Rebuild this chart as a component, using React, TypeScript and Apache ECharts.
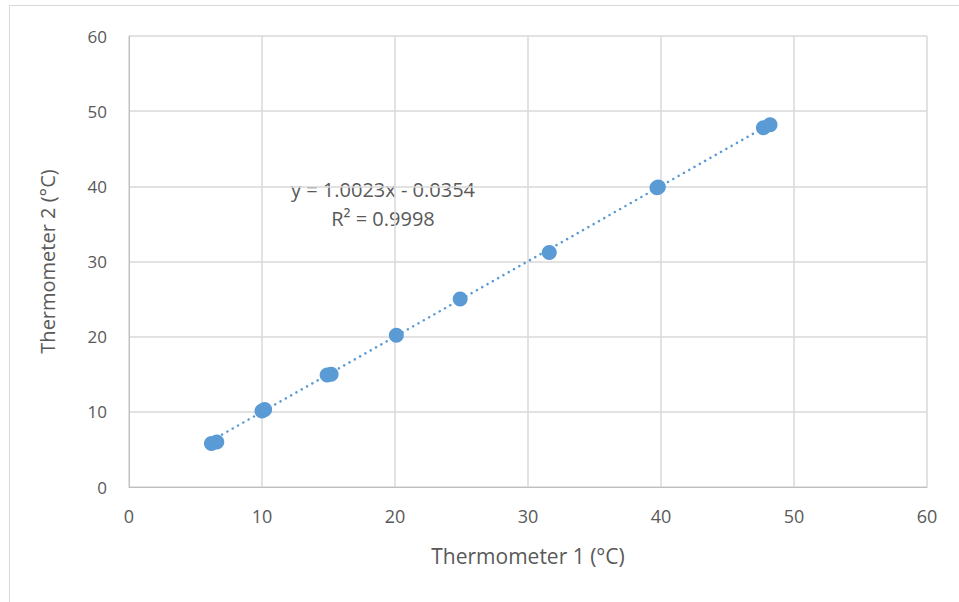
import React, { useEffect, useRef } from "react";
import * as echarts from "echarts";

const thermometer1 = [6.2, 6.6, 10.0, 10.2, 14.9, 15.2, 20.1, 24.9, 31.6, 39.7, 39.8, 47.7, 48.2];
const thermometer2 = [5.8, 6.0, 10.1, 10.3, 14.9, 15.0, 20.2, 25.0, 31.2, 39.8, 39.9, 47.8, 48.2];
const slope = 1.0023;
const intercept = -0.0354;
const equationLines = ["y = 1.0023x - 0.0354", "R² = 0.9998"];

export default function App() {
  const ref = useRef<HTMLDivElement>(null);
  useEffect(() => {
    if (!ref.current) return;
    const chart = echarts.init(ref.current, undefined, { renderer: "svg" });
    const points = thermometer1.map((x, i) => [x, thermometer2[i]]);
    const xMin = Math.min(...thermometer1);
    const xMax = Math.max(...thermometer1);
    const trend = [
      [xMin, slope * xMin + intercept],
      [xMax, slope * xMax + intercept],
    ];
    const font = "'Open Sans', 'Noto Sans', sans-serif";
    chart.setOption({
      animation: false,
      backgroundColor: "#ffffff",
      grid: { left: 129, right: 32, top: 36, bottom: 115, containLabel: false },
      graphic: [
        {
          type: "rect",
          shape: { x: 9.5, y: 5.5, width: 1000, height: 1000 },
          style: { fill: "none", stroke: "#d9d9d9", lineWidth: 1 },
          silent: true,
        },
        {
          type: "text",
          x: 383,
          y: 175,
          style: {
            text: equationLines.join("\n"),
            fill: "#595959",
            font: `20px ${font}`,
            align: "center",
            lineHeight: 29,
          },
        },
      ],
      xAxis: {
        type: "value",
        min: 0,
        max: 60,
        interval: 10,
        name: "Thermometer 1 (°C)",
        nameLocation: "middle",
        nameGap: 58,
        nameTextStyle: { color: "#595959", fontSize: 21, fontFamily: font },
        axisLine: { show: true, lineStyle: { color: "#bfbfbf", width: 1 } },
        axisTick: { show: false },
        axisLabel: { color: "#595959", fontSize: 18, fontFamily: font, margin: 20 },
        splitLine: { show: true, lineStyle: { color: "#d9d9d9", width: 1.5 } },
      },
      yAxis: {
        type: "value",
        min: 0,
        max: 60,
        interval: 10,
        name: "Thermometer 2 (°C)",
        nameLocation: "middle",
        nameGap: 72,
        nameTextStyle: { color: "#595959", fontSize: 20, fontFamily: font },
        axisLine: { show: true, lineStyle: { color: "#bfbfbf", width: 1 } },
        axisTick: { show: false },
        axisLabel: { color: "#595959", fontSize: 17, fontFamily: font, margin: 22 },
        splitLine: { show: true, lineStyle: { color: "#d9d9d9", width: 1.5 } },
      },
      series: [
        {
          type: "line",
          data: trend,
          symbol: "none",
          lineStyle: { color: "#5b9bd5", width: 2.5, type: [0.1, 6], cap: "round" },
          z: 2,
        },
        {
          type: "scatter",
          data: points,
          symbol: "circle",
          symbolSize: 15,
          itemStyle: { color: "#5b9bd5", opacity: 1 },
          z: 3,
        },
      ],
    });
    return () => chart.dispose();
  }, []);
  return <div ref={ref} style={{ position: "fixed", left: 0, top: 0, width: 959, height: 602 }} />;
}
